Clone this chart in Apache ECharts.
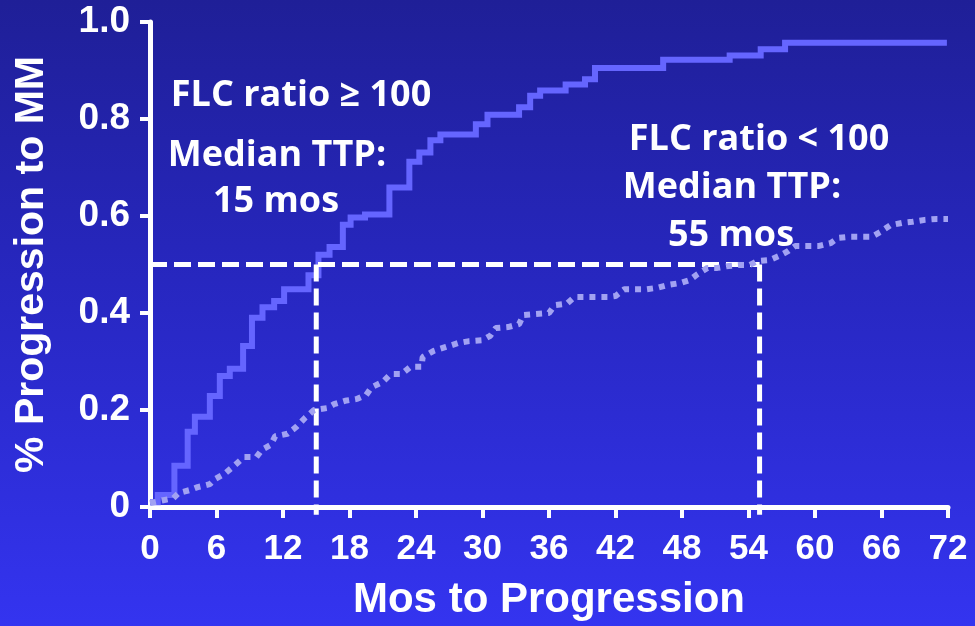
<!DOCTYPE html>
<html>
<head>
<meta charset="utf-8">
<script src="https://cdn.jsdelivr.net/npm/echarts@6/dist/echarts.min.js"></script>
<style>
  html, body { margin: 0; padding: 0; }
  #chart {
    width: 975px; height: 626px;
    background: linear-gradient(to bottom, #1f1f97 0%, #2727c0 45%, #3434f0 100%);
  }
</style>
</head>
<body>
<div id="chart"></div>
<script>
// Cumulative progression, FLC ratio >= 100 (step curve: month of event, cumulative fraction)
const highMonths = [0, 0.7, 2.2, 3.4, 4.05, 5.4, 6.3, 7.2, 8.4, 9.2, 10.15, 11.2, 12.1, 14.3, 15.2, 16.2, 17.4, 18.1, 19.4, 21.6, 23.4, 24.3, 25.3, 26.2, 29.4, 30.45, 33.3, 34.3, 35.2, 37.5, 39.25, 40.15, 46.3, 52.3, 55.1, 57.3, 71.9];
const highProgression = [0.01, 0.025, 0.085, 0.155, 0.186, 0.229, 0.27, 0.285, 0.332, 0.39, 0.412, 0.425, 0.449, 0.478, 0.52, 0.536, 0.582, 0.597, 0.603, 0.659, 0.712, 0.731, 0.756, 0.768, 0.789, 0.809, 0.824, 0.848, 0.859, 0.871, 0.882, 0.905, 0.922, 0.931, 0.944, 0.957, 0.957];

// Cumulative progression, FLC ratio < 100
const lowMonths = [0, 1.2, 2.1, 2.6, 3.6, 4.3, 5.4, 5.9, 6.7, 7.6, 8.5, 9.6, 10.1, 10.9, 11.3, 12.4, 13.2, 14.0, 14.8, 16.0, 16.6, 17.6, 18.7, 19.5, 20.0, 21.0, 21.7, 22.7, 23.5, 24.5, 24.6, 25.6, 26.7, 27.8, 28.8, 30.0, 30.7, 31.2, 32.3, 33.3, 33.7, 34.8, 36.0, 36.5, 37.6, 38.3, 39.3, 40.4, 41.4, 42.0, 42.8, 43.7, 44.8, 45.8, 46.8, 47.9, 48.7, 49.4, 50.3, 51.2, 52.2, 53.2, 54.1, 54.8, 55.9, 56.8, 57.6, 58.2, 59.3, 60.3, 61.4, 62.1, 63.0, 64.1, 65.1, 65.9, 66.8, 67.9, 68.8, 69.9, 71.0, 72.0];
const lowProgression = [0.008, 0.014, 0.018, 0.029, 0.035, 0.041, 0.047, 0.058, 0.068, 0.085, 0.103, 0.103, 0.118, 0.128, 0.146, 0.151, 0.165, 0.184, 0.2, 0.204, 0.212, 0.219, 0.223, 0.231, 0.247, 0.258, 0.274, 0.274, 0.289, 0.289, 0.309, 0.322, 0.33, 0.338, 0.342, 0.344, 0.353, 0.369, 0.371, 0.377, 0.396, 0.398, 0.4, 0.416, 0.419, 0.433, 0.433, 0.433, 0.433, 0.435, 0.449, 0.449, 0.449, 0.452, 0.458, 0.462, 0.468, 0.48, 0.493, 0.493, 0.497, 0.499, 0.499, 0.507, 0.509, 0.518, 0.528, 0.538, 0.538, 0.538, 0.544, 0.555, 0.557, 0.557, 0.557, 0.567, 0.581, 0.586, 0.588, 0.592, 0.594, 0.594];

// Median time to progression (months) and the 50% level
const medianMonths = [15, 55];
const medianLevel = 0.5;

// Axis ticks
const xTicks = [0, 6, 12, 18, 24, 30, 36, 42, 48, 54, 60, 66, 72];
const yTickLabels = { 0: '0', 0.2: '0.2', 0.4: '0.4', 0.6: '0.6', 0.8: '0.8', 1: '1.0' };

const pairs = (xs, ys) => xs.map((x, i) => [x, ys[i]]);

const chart = echarts.init(document.getElementById('chart'), null, { renderer: 'canvas' });

const annoFont = 'bold 36px "Open Sans", "Noto Sans", sans-serif';
const axisFont = '"Liberation Sans", Arial, sans-serif';

const dashStyle = { color: '#ffffff', width: 5, type: [17, 7], cap: 'butt' };

chart.setOption({
  backgroundColor: 'transparent',
  animation: false,
  grid: { left: 150, right: 27, top: 22, bottom: 119, containLabel: false },
  xAxis: {
    type: 'value',
    min: xTicks[0],
    max: xTicks[xTicks.length - 1],
    interval: xTicks[1] - xTicks[0],
    name: 'Mos to Progression',
    nameLocation: 'middle',
    nameGap: 72,
    nameTextStyle: { color: '#ffffff', fontFamily: axisFont, fontWeight: 'bold', fontSize: 42 },
    axisLine: { show: true, lineStyle: { color: '#ffffff', width: 5 } },
    axisTick: { show: true, inside: false, length: 11, lineStyle: { color: '#ffffff', width: 4 } },
    axisLabel: { color: '#ffffff', fontFamily: axisFont, fontWeight: 'bold', fontSize: 35, margin: 25 },
    splitLine: { show: false }
  },
  yAxis: {
    type: 'value',
    min: 0,
    max: 1,
    interval: 0.2,
    name: '% Progression to MM',
    nameLocation: 'middle',
    nameGap: 98,
    nameRotate: 90,
    nameTextStyle: { color: '#ffffff', fontFamily: axisFont, fontWeight: 'bold', fontSize: 41 },
    axisLine: { show: true, lineStyle: { color: '#ffffff', width: 5 } },
    axisTick: { show: true, length: 10, lineStyle: { color: '#ffffff', width: 4 } },
    axisLabel: {
      color: '#ffffff', fontFamily: axisFont, fontWeight: 'bold', fontSize: 37, margin: 20,
      formatter: v => yTickLabels[Math.round(v * 10) / 10] ?? String(v)
    },
    splitLine: { show: false }
  },
  series: [
    {
      name: 'FLC ratio ≥ 100',
      type: 'line',
      step: 'end',
      data: pairs(highMonths, highProgression),
      showSymbol: false,
      lineStyle: { color: '#6565ff', width: 6, cap: 'butt', join: 'miter' },
      z: 3
    },
    {
      name: 'median 50%',
      type: 'line',
      data: [[0, medianLevel], [medianMonths[1], medianLevel]],
      showSymbol: false,
      lineStyle: dashStyle,
      z: 4
    },
    ...medianMonths.map((m, i) => ({
      name: 'median ' + i,
      type: 'line',
      data: [[m, medianLevel], [m, -0.016]],
      showSymbol: false,
      clip: false,
      lineStyle: dashStyle,
      z: 4
    })),
    {
      name: 'FLC ratio < 100',
      type: 'line',
      data: pairs(lowMonths, lowProgression),
      showSymbol: false,
      lineStyle: { color: '#a2a2f2', width: 6, type: [6, 6], cap: 'butt' },
      z: 5
    }
  ],
  graphic: [
    { type: 'text', x: 301, y: 96, style: { text: 'FLC ratio ≥ 100', fill: '#ffffff', font: annoFont, textAlign: 'center', textVerticalAlign: 'middle' } },
    { type: 'text', x: 277, y: 156, style: { text: 'Median TTP:', fill: '#ffffff', font: annoFont, textAlign: 'center', textVerticalAlign: 'middle' } },
    { type: 'text', x: 276, y: 202, style: { text: '15 mos', fill: '#ffffff', font: annoFont, textAlign: 'center', textVerticalAlign: 'middle' } },
    { type: 'text', x: 759, y: 140, style: { text: 'FLC ratio < 100', fill: '#ffffff', font: annoFont, textAlign: 'center', textVerticalAlign: 'middle' } },
    { type: 'text', x: 732, y: 188, style: { text: 'Median TTP:', fill: '#ffffff', font: annoFont, textAlign: 'center', textVerticalAlign: 'middle' } },
    { type: 'text', x: 731, y: 236, style: { text: '55 mos', fill: '#ffffff', font: annoFont, textAlign: 'center', textVerticalAlign: 'middle' } }
  ]
});
</script>
</body>
</html>
